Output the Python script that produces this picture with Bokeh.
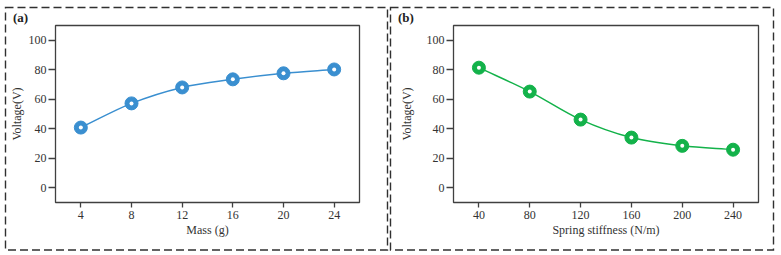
from bokeh.plotting import figure
from bokeh.layouts import row
from bokeh.models import FixedTicker, Range1d
from bokeh.embed import file_html
from bokeh.resources import INLINE

# ---- data ----
mass = [4, 8, 12, 16, 20, 24]
voltage_mass = [40.8, 57.2, 68.0, 73.5, 77.6, 80.2]
stiffness = [40, 80, 120, 160, 200, 240]
voltage_stiff = [81.4, 65.2, 46.2, 34.0, 28.4, 25.8]
y_ticks = [0, 20, 40, 60, 80, 100]

FONT = "Liberation Serif"
TXT = "#333333"


def bezier_segments(xs, ys):
    """Catmull-Rom tangents -> cubic bezier control points for a smooth line."""
    n = len(xs)
    tx, ty = [], []
    for i in range(n):
        if i == 0:
            dx, dy = xs[1] - xs[0], ys[1] - ys[0]
        elif i == n - 1:
            dx, dy = xs[-1] - xs[-2], ys[-1] - ys[-2]
        else:
            dx, dy = (xs[i + 1] - xs[i - 1]) / 2, (ys[i + 1] - ys[i - 1]) / 2
        tx.append(dx)
        ty.append(dy)
    seg = dict(x0=[], y0=[], x1=[], y1=[], cx0=[], cy0=[], cx1=[], cy1=[])
    for i in range(n - 1):
        seg["x0"].append(xs[i]); seg["y0"].append(ys[i])
        seg["x1"].append(xs[i + 1]); seg["y1"].append(ys[i + 1])
        seg["cx0"].append(xs[i] + tx[i] / 3); seg["cy0"].append(ys[i] + ty[i] / 3)
        seg["cx1"].append(xs[i + 1] - tx[i + 1] / 3); seg["cy1"].append(ys[i + 1] - ty[i + 1] / 3)
    return seg


def dashed_box_css(width, left, right):
    svg = ("<svg xmlns='http://www.w3.org/2000/svg' width='%d' height='255'>"
           "<rect x='%.1f' y='7.5' width='%.1f' height='242.5' fill='none' "
           "stroke='%%23303030' stroke-width='1.4' stroke-dasharray='8 4'/></svg>"
           % (width, left, right - left))
    return 'url("data:image/svg+xml;utf8,%s")' % svg


def panel(xs, ys, color, xrange, xticks, xlabel, tag, width, borders, box, ylab_standoff):
    p = figure(width=width, height=255, output_backend="svg", toolbar_location=None,
               x_range=Range1d(*xrange), y_range=Range1d(-10, 110),
               min_border_left=borders[0], min_border_right=borders[1],
               min_border_top=borders[2], min_border_bottom=borders[3])
    p.grid.visible = False
    p.outline_line_color = "#404040"
    p.outline_line_width = 1.3
    p.background_fill_color = "white"
    p.border_fill_color = None
    p.styles = {"background-color": "white",
                "background-image": dashed_box_css(width, box[0], box[1]),
                "background-repeat": "no-repeat"}

    p.title.text = tag
    p.title.text_font = FONT
    p.title.text_font_size = "13px"
    p.title.text_font_style = "bold"
    p.title.text_color = "#222222"
    p.title.align = "left"
    p.title.offset = box[0] + 7 - borders[0]
    p.title.standoff = 2

    for ax in (p.xaxis[0], p.yaxis[0]):
        ax.axis_line_color = None
        ax.major_tick_in = 0
        ax.minor_tick_line_color = None
        ax.major_tick_line_color = "#404040"
        ax.major_tick_line_width = 1.3
        ax.major_label_text_font = FONT
        ax.major_label_text_font_size = "12px"
        ax.major_label_text_color = TXT
        ax.axis_label_text_font = FONT
        ax.axis_label_text_font_size = "12px"
        ax.axis_label_text_font_style = "normal"
        ax.axis_label_text_color = TXT

    p.xaxis.ticker = FixedTicker(ticks=xticks)
    p.yaxis.ticker = FixedTicker(ticks=y_ticks)
    p.xaxis.major_tick_out = 5
    p.yaxis.major_tick_out = 7
    p.xaxis.major_label_standoff = 3
    p.yaxis.major_label_standoff = 2
    p.xaxis.axis_label = xlabel
    p.yaxis.axis_label = "Voltage(V)"
    p.xaxis.axis_label_standoff = 1
    p.yaxis.axis_label_standoff = ylab_standoff

    seg = bezier_segments(xs, ys)
    p.bezier(x0=seg["x0"], y0=seg["y0"], x1=seg["x1"], y1=seg["y1"],
             cx0=seg["cx0"], cy0=seg["cy0"], cx1=seg["cx1"], cy1=seg["cy1"],
             line_color=color, line_width=1.5)
    p.scatter(xs, ys, size=13, fill_color=color, line_color=color)
    p.scatter(xs, ys, size=4, fill_color="white", line_color=None)
    return p


pa = panel(mass, voltage_mass, "#3a8fd0", (2, 26), mass, "Mass (g)", "(a)",
           389, (55, 30, 25, 52), (5.5, 387.5), 2)
pb = panel(stiffness, voltage_stiff, "#13b24a", (20, 260), stiffness,
           "Spring stiffness (N/m)", "(b)", 392, (64, 23, 24, 53), (1.5, 384.5), 10)

layout = row(pa, pb)
with open("out.html", "w") as f:
    f.write(file_html(layout, INLINE))
